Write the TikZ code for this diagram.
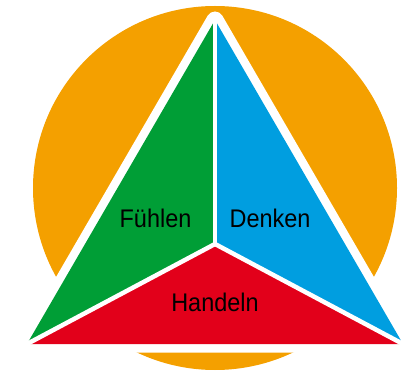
\documentclass[tikz,border=0pt]{standalone}
\usepackage{fontspec}
\newfontfamily\labfont[FakeStretch=0.92]{Liberation Sans}
\definecolor{orangeC}{HTML}{F4A000}
\definecolor{greenC}{HTML}{009E36}
\definecolor{blueC}{HTML}{009EE0}
\definecolor{redC}{HTML}{E2001A}
\tikzset{
  lab/.style={font=\labfont\fontsize{25.5}{30}\selectfont, text=black, inner sep=0pt},
  gap/.style={white, line width=4.5pt, line cap=round}
}
\begin{document}
\begin{tikzpicture}[x=1pt,y=-1pt]
\useasboundingbox (0,0) rectangle (401,371);
\clip (0,0) rectangle (401,371);
\fill[orangeC] (215,188) circle (182pt);
\coordinate (T) at (215,20);
\coordinate (L) at (27,344);
\coordinate (R) at (403,344);
\coordinate (C) at (215,244);
\filldraw[white, line width=17pt, line join=round] (T) -- (L) -- (R) -- cycle;
\fill[greenC] (T) -- (L) -- (C) -- cycle;
\fill[blueC] (T) -- (C) -- (R) -- cycle;
\fill[redC] (L) -- (R) -- (C) -- cycle;
\draw[gap] (C) -- (T);
\draw[gap] (C) -- (L);
\draw[gap] (C) -- (R);
\node[lab] (f) at (155.5,218) {Fühlen};
\node[lab] (d) at (270,218) {Denken};
\node[lab] (h) at (215,302) {Handeln};
\end{tikzpicture}
\end{document}
